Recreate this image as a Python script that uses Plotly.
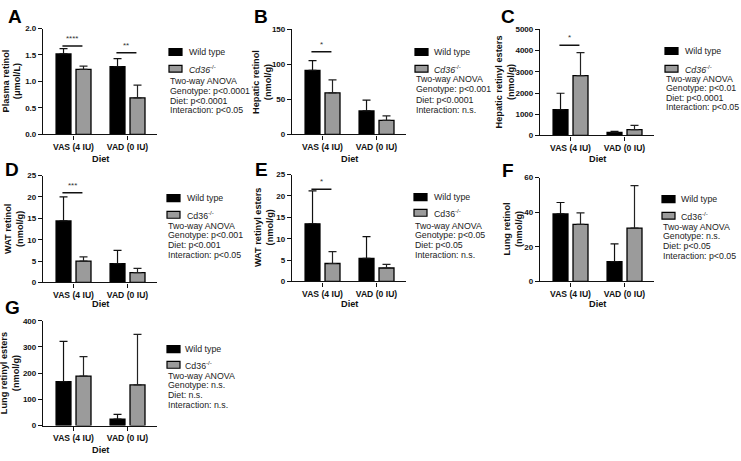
import plotly.graph_objects as go

W, H = 741, 461

categories = ["VAS (4 IU)", "VAD (0 IU)"]

# A - Plasma retinol
plasma_wt = [1.52, 1.28]
plasma_wt_sd = [0.10, 0.15]
plasma_ko = [1.23, 0.69]
plasma_ko_sd = [0.06, 0.24]
# B - Hepatic retinol
hep_ret_wt = [91.5, 33.5]
hep_ret_wt_sd = [14.0, 15.5]
hep_ret_ko = [59.5, 20.0]
hep_ret_ko_sd = [18.5, 6.5]
# C - Hepatic retinyl esters
hep_re_wt = [1220, 140]
hep_re_wt_sd = [770, 45]
hep_re_ko = [2820, 270]
hep_re_ko_sd = [1090, 200]
# D - WAT retinol
wat_ret_wt = [14.4, 4.4]
wat_ret_wt_sd = [5.6, 3.1]
wat_ret_ko = [5.0, 2.3]
wat_ret_ko_sd = [1.0, 1.0]
# E - WAT retinyl esters
wat_re_wt = [13.5, 5.4]
wat_re_wt_sd = [7.7, 5.1]
wat_re_ko = [4.2, 3.15]
wat_re_ko_sd = [2.8, 0.85]
# F - Lung retinol
lung_ret_wt = [39.0, 11.5]
lung_ret_wt_sd = [6.6, 10.2]
lung_ret_ko = [33.0, 30.8]
lung_ret_ko_sd = [6.6, 24.5]
# G - Lung retinyl esters
lung_re_wt = [168, 25]
lung_re_wt_sd = [153, 18]
lung_re_ko = [189, 155]
lung_re_ko_sd = [74, 193]

panel_letters = ["A", "B", "C", "D", "E", "F", "G"]
y_titles = ["Plasma retinol<br>(μmol/L)", "Hepatic retinol<br>(nmol/g)",
            "Hepatic retinyl esters<br>(nmol/g)", "WAT retinol<br>(nmol/g)",
            "WAT retinyl esters<br>(nmol/g)", "Lung retinol<br>(nmol/g)",
            "Lung retinyl esters<br>(nmol/g)"]
y_max = [2.0, 150, 5000, 25, 25, 60, 400]
y_dtick = [0.5, 50, 1000, 5, 5, 20, 100]
y_tickformat = [".1f", "", "", "", "", "", ""]
genotype_p = ["p<0.0001", "p<0.001", "p<0.01", "p<0.001", "p<0.05", "n.s.", "n.s."]
diet_p = ["p<0.0001", "p<0.0001", "p<0.0001", "p<0.001", "p<0.05", "p<0.05", "n.s."]
interaction_p = ["p<0.05", "n.s.", "p<0.05", "p<0.05", "n.s.", "p<0.05", "n.s."]
ko_italic = [True, True, True, False, False, False, False]
# significance brackets: (panel index, category index, y level, stars)
sig_panel = [0, 0, 1, 2, 3, 4]
sig_cat = [0, 1, 0, 0, 0, 0]
sig_level = [1.67, 1.54, 118, 4250, 21.0, 21.6]
sig_stars = ["****", "**", "*", "*", "***", "*"]

wt_vals = [plasma_wt, hep_ret_wt, hep_re_wt, wat_ret_wt, wat_re_wt, lung_ret_wt, lung_re_wt]
wt_sds = [plasma_wt_sd, hep_ret_wt_sd, hep_re_wt_sd, wat_ret_wt_sd, wat_re_wt_sd, lung_ret_wt_sd, lung_re_wt_sd]
ko_vals = [plasma_ko, hep_ret_ko, hep_re_ko, wat_ret_ko, wat_re_ko, lung_ret_ko, lung_re_ko]
ko_sds = [plasma_ko_sd, hep_ret_ko_sd, hep_re_ko_sd, wat_ret_ko_sd, wat_re_ko_sd, lung_ret_ko_sd, lung_re_ko_sd]

# ---------------- layout geometry (pixels) ----------------
AX_W = 114
geom = [(43, 25, 133), (292, 26, 133), (540, 26, 134),
        (43, 175, 284), (292, 174, 283), (540, 177, 283),
        (43, 323, 430)]
letter_pos = [(15, 13), (261, 13), (508, 13), (12, 169), (261, 169), (508, 170), (12, 310)]
ytitle_x = [12, 262, 505, 14, 264, 513, 10]
diet_y = [158, 158, 158, 306, 306, 306, 455]
legend_geo = [
    (169, 187, [49, 66, 79, 89, 99, 108]),
    (415, 432, [49, 66, 77, 87, 98, 108]),
    (665, 683, [48, 66, 76, 86, 96, 105]),
    (167, 185, [198, 215, 226, 236, 246, 256]),
    (414, 432, [197, 213, 226, 236, 246, 256]),
    (662, 679, [199, 216, 227, 237, 247, 257]),
    (167, 183, [352, 368, 379, 389, 399, 409]),
]

FONT = "Arial, 'Liberation Sans', sans-serif"
GRAY = "#9b9b9b"

def px(x):
    return x / W

def py(y):
    return 1 - y / H

fig = go.Figure()
layout = dict(
    width=W, height=H, margin=dict(l=0, r=0, t=0, b=0),
    paper_bgcolor="white", plot_bgcolor="white", showlegend=False,
    barmode="group", bargap=0.26, bargroupgap=0.25,
    font=dict(family=FONT, color="#111"),
)
shapes = []
annotations = []
unit = AX_W / 2.111

for i in range(7):
    sfx = "" if i == 0 else str(i + 1)
    xa, ya = "x" + sfx, "y" + sfx
    x0, ytop, ybot = geom[i]
    layout["xaxis" + sfx] = dict(
        domain=[px(x0), px(x0 + AX_W)], anchor=ya, type="category",
        range=[-0.565, 1.546], showline=True, linecolor="#111", linewidth=1.3,
        ticks="outside", ticklen=4, tickwidth=1.2, tickcolor="#111",
        tickfont=dict(size=8.6, family=FONT, color="#111", weight="bold"),
        showgrid=False, zeroline=False, fixedrange=True,
    )
    layout["yaxis" + sfx] = dict(
        domain=[py(ybot), py(ytop)], anchor=xa, range=[0, y_max[i]],
        dtick=y_dtick[i], tickformat=y_tickformat[i],
        showline=True, linecolor="#111", linewidth=1.3,
        ticks="outside", ticklen=4, tickwidth=1.2, tickcolor="#111",
        tickfont=dict(size=8, family=FONT, color="#111", weight="bold"),
        showgrid=False, zeroline=False, fixedrange=True,
    )
    fig.add_trace(go.Bar(
        x=categories, y=wt_vals[i], xaxis=xa, yaxis=ya, name="Wild type",
        marker=dict(color="#000", line=dict(color="#000", width=1.2)),
        error_y=dict(type="data", array=wt_sds[i], arrayminus=[0, 0], symmetric=False,
                     color="#111", thickness=1.2, width=4),
    ))
    fig.add_trace(go.Bar(
        x=categories, y=ko_vals[i], xaxis=xa, yaxis=ya, name="Cd36-/-",
        marker=dict(color=GRAY, line=dict(color="#000", width=1.3)),
        error_y=dict(type="data", array=ko_sds[i], arrayminus=[0, 0], symmetric=False,
                     color="#222", thickness=1.2, width=4),
    ))

    # panel letter
    lx, ly = letter_pos[i]
    annotations.append(dict(text="<b>%s</b>" % panel_letters[i], x=px(lx), y=py(ly),
                            xref="paper", yref="paper", xanchor="center", yanchor="middle",
                            showarrow=False, font=dict(size=19, family=FONT, color="#000")))
    # y title
    annotations.append(dict(text="<b>%s</b>" % y_titles[i], x=px(ytitle_x[i]),
                            y=py((ytop + ybot) / 2), xref="paper", yref="paper",
                            xanchor="center", yanchor="middle", textangle=-90,
                            showarrow=False, font=dict(size=9.2, family=FONT, color="#111")))
    # x title
    annotations.append(dict(text="<b>Diet</b>", x=px(x0 + AX_W / 2), y=py(diet_y[i]),
                            xref="paper", yref="paper", xanchor="center", yanchor="middle",
                            showarrow=False, font=dict(size=9.2, family=FONT, color="#111")))
    # legend
    sx, tx, rows = legend_geo[i]
    for j, fill in enumerate(["#000", GRAY]):
        shapes.append(dict(type="rect", xref="paper", yref="paper",
                           x0=px(sx), x1=px(sx + 13), y0=py(rows[j] + 3.5), y1=py(rows[j] - 3.5),
                           fillcolor=fill, line=dict(color="#000", width=1.2)))
    ko_label = "<i>Cd36</i><sup>-/-</sup>" if ko_italic[i] else "Cd36<sup>-/-</sup>"
    texts = ["Wild type", ko_label, "Two-way ANOVA",
             "Genotype: " + genotype_p[i], "Diet: " + diet_p[i],
             "Interaction: " + interaction_p[i]]
    for j, t in enumerate(texts):
        x_text = tx if j < 2 else sx - 1
        annotations.append(dict(text=t, x=px(x_text), y=py(rows[j]), xref="paper", yref="paper",
                                xanchor="left", yanchor="middle", showarrow=False,
                                font=dict(size=8.8, family=FONT, color="#222")))

# significance brackets
off = 10 / unit
for k in range(len(sig_panel)):
    i = sig_panel[k]
    sfx = "" if i == 0 else str(i + 1)
    c = sig_cat[k]
    shapes.append(dict(type="line", xref="x" + sfx, yref="y" + sfx,
                       x0=c - off - 0.02, x1=c + off - 0.02, y0=sig_level[k], y1=sig_level[k],
                       line=dict(color="#111", width=1.5)))
    annotations.append(dict(text=sig_stars[k], x=c - 0.02, y=sig_level[k], xref="x" + sfx,
                            yref="y" + sfx, xanchor="center", yanchor="bottom", yshift=1,
                            showarrow=False, font=dict(size=8, family=FONT, color="#333")))

layout["shapes"] = shapes
layout["annotations"] = annotations
fig.update_layout(**layout)
fig.write_html("out.html", config={"displayModeBar": False},
               post_script="document.body.style.margin='0';document.body.style.overflow='hidden';")
